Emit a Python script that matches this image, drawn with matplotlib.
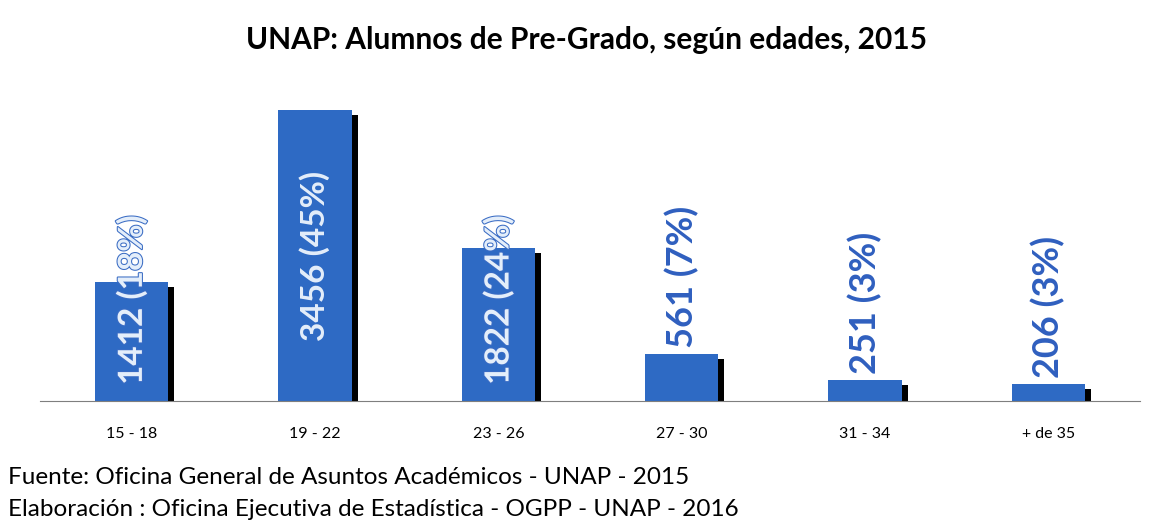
import matplotlib.pyplot as plt
import matplotlib.patheffects as pe

grupos = ['15 - 18', '19 - 22', '23 - 26', '27 - 30', '31 - 34', '+ de 35']
alumnos = [1412, 3456, 1822, 561, 251, 206]
porcentajes = [18, 45, 24, 7, 3, 3]

titulo = 'UNAP: Alumnos de Pre-Grado, según edades, 2015'
fuente = 'Fuente: Oficina General de Asuntos Académicos - UNAP - 2015'
elaboracion = 'Elaboración : Oficina Ejecutiva de Estadística - OGPP - UNAP - 2016'


def main():
    plt.rcParams['font.family'] = ['Lato', 'DejaVu Sans']

    fig = plt.figure(figsize=(11.55, 5.23), dpi=100)
    ax = fig.add_axes([40 / 1155, 1 - 401 / 523, 1100 / 1155, 341 / 523])

    ymax = 4050
    px_y = ymax / 341.0
    px_x = 1.0 / 183.0
    x = list(range(len(grupos)))
    width = 73 * px_x

    # sombra negra desplazada
    ax.bar([i + 6 * px_x for i in x], [v - 5 * px_y for v in alumnos],
           width=width, color='black', zorder=1)
    ax.bar(x, alumnos, width=width, color='#2E6AC4', zorder=2)

    largo_texto = 200 * px_y
    for i, v, p in zip(x, alumnos, porcentajes):
        texto = '%d (%d%%)' % (v, p)
        if v > largo_texto + 40 * px_y:
            # cabe dentro: centrado en la barra
            ax.text(i, v / 2, texto, rotation=90, ha='center', va='center',
                    fontsize=24, fontweight='bold', color='#E4EEFA', zorder=3)
        elif v > 1000:
            ax.annotate(texto, (i, 0), xytext=(0, 16), textcoords='offset pixels',
                        rotation=90, ha='center', va='bottom', fontsize=24,
                        fontweight='bold', color='#E4EEFA', zorder=3,
                        path_effects=[pe.withStroke(linewidth=1.5, foreground='#3A6CC4')])
        else:
            ax.annotate(texto, (i, v), xytext=(0, 6), textcoords='offset pixels',
                        rotation=90, ha='center', va='bottom', fontsize=26,
                        fontweight='bold', color='#2F5FBF', zorder=3)

    ax.set_xlim(-0.5, len(grupos) - 0.5)
    ax.set_ylim(0, ymax)
    ax.set_xticks(x)
    ax.set_xticklabels(grupos, fontsize=11.5)
    ax.tick_params(axis='x', length=0, pad=19)
    ax.set_yticks([])
    for s in ['left', 'right', 'top']:
        ax.spines[s].set_visible(False)
    ax.spines['bottom'].set_color('#7F7F7F')

    fig.text(587 / 1155, 1 - 40 / 523, titulo, ha='center', va='center',
             fontsize=21.5, fontweight='bold', color='black')
    fig.text(8 / 1155, 1 - 478 / 523, fuente, ha='left', va='center', fontsize=17.5)
    fig.text(8 / 1155, 1 - 510 / 523, elaboracion, ha='left', va='center', fontsize=17.5)

    fig.savefig('out.png', dpi=100)


if __name__ == '__main__':
    main()
